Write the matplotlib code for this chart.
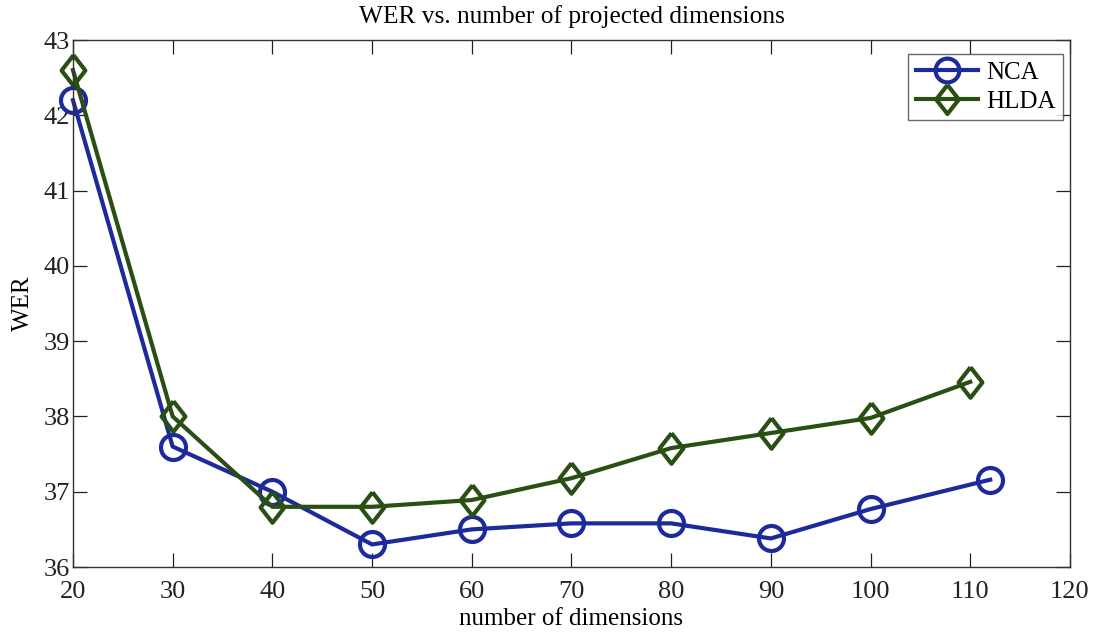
import matplotlib
matplotlib.use("Agg")
import matplotlib.pyplot as plt

plt.rcParams['font.family'] = ['Liberation Serif', 'DejaVu Serif']

nca_x = [20, 30, 40, 50, 60, 70, 80, 90, 100, 112]
nca_y = [42.2, 37.6, 37.0, 36.3, 36.5, 36.58, 36.58, 36.38, 36.77, 37.16]
hlda_x = [20, 30, 40, 50, 60, 70, 80, 90, 100, 110]
hlda_y = [42.6, 38.0, 36.8, 36.8, 36.89, 37.18, 37.58, 37.78, 37.98, 38.46]
xticks = [20, 30, 40, 50, 60, 70, 80, 90, 100, 110, 120]
yticks = [36, 37, 38, 39, 40, 41, 42, 43]

diamond = [(0, 1), (0.78, 0), (0, -1), (-0.78, 0), (0, 1)]

fig = plt.figure(figsize=(10.94, 6.32), dpi=100)
ax = fig.add_axes([0.0667, 0.1028, 0.9113, 0.8339])

ax.plot(nca_x, nca_y, color='#1c2a9c', lw=3.0, marker='o', ms=18,
        mfc='none', mec='#1c2a9c', mew=3.0, label='NCA', clip_on=False)
ax.plot(hlda_x, hlda_y, color='#2a4f14', lw=3.0, marker=diamond, ms=22,
        mfc='none', mec='#2a4f14', mew=3.0, label='HLDA', clip_on=False)

ax.set_xlim(20, 120)
ax.set_ylim(36, 43)
ax.set_xticks(xticks)
ax.set_yticks(yticks)
ax.tick_params(direction='in', top=True, right=True, length=10, width=0.9,
               labelsize=19, colors='#222222')
ax.tick_params(axis='x', pad=10)
ax.tick_params(axis='y', pad=2)
for s in ax.spines.values():
    s.set_linewidth(1.0)
    s.set_color('#333333')

ax.set_title('WER vs. number of projected dimensions', fontsize=18.3, pad=12)
ax.set_xlabel('number of dimensions', fontsize=18, labelpad=4)
ax.set_ylabel('WER', fontsize=18, labelpad=7)

leg = ax.legend(loc='upper right', fontsize=18, frameon=True, fancybox=False,
                edgecolor='#444444', handlelength=2.5, borderpad=0.3,
                labelspacing=0.25, handletextpad=0.3, markerscale=0.95,
                borderaxespad=0, bbox_to_anchor=(0.993, 0.973))
leg.get_frame().set_linewidth(1.0)

fig.savefig('out.png', dpi=100)
